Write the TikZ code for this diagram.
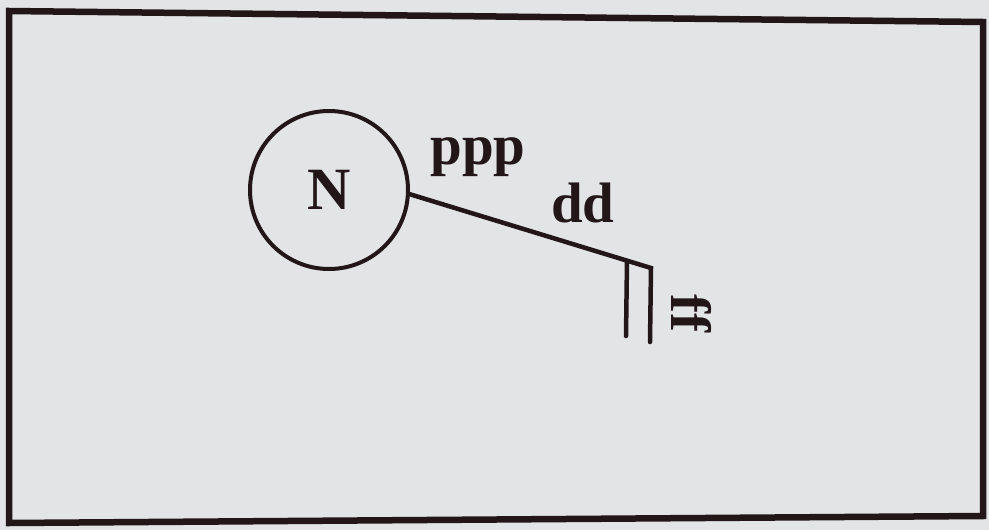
\documentclass[tikz,border=0pt]{standalone}
\usepackage{fontspec}
\setmainfont{Liberation Serif}
\definecolor{paper}{HTML}{E3E4E6}
\definecolor{ink}{HTML}{221618}
\begin{document}
\begin{tikzpicture}[x=1pt,y=-1pt,
  lbl/.style={font=\bfseries\fontsize{57}{62}\selectfont, text=ink, inner sep=0pt},
  wire/.style={draw=ink, line width=4.5pt, line cap=round, line join=miter}]
\fill[paper] (0,0) rectangle (989,530);
\useasboundingbox (0,0) rectangle (989,530);
% frame
\draw[ink, line width=6.5pt, line join=miter] (9,11) -- (983,22) -- (983,516) -- (9,523) -- cycle;
% circle node
\node[circle, draw=ink, line width=4pt, minimum size=158pt, inner sep=0pt,
      font=\bfseries\fontsize{60}{64}\selectfont, text=ink] (N) at (329,190) {N};
\coordinate (corner) at (651,268);
\coordinate (bottom) at (650,342);
\coordinate (tick) at (627,261);
\coordinate (tickend) at (626,336);
\draw[wire] (N.-3) -- (corner) -- (bottom);
\draw[wire] (tick) -- (tickend);
% labels
\node[lbl, anchor=base] (ppp) at (478,164) {ppp};
\node[lbl, anchor=base] (dd) at (583,222) {dd};
\node[lbl, rotate=-90, anchor=base] (ff) at (671,313) {ff};
\end{tikzpicture}
\end{document}
